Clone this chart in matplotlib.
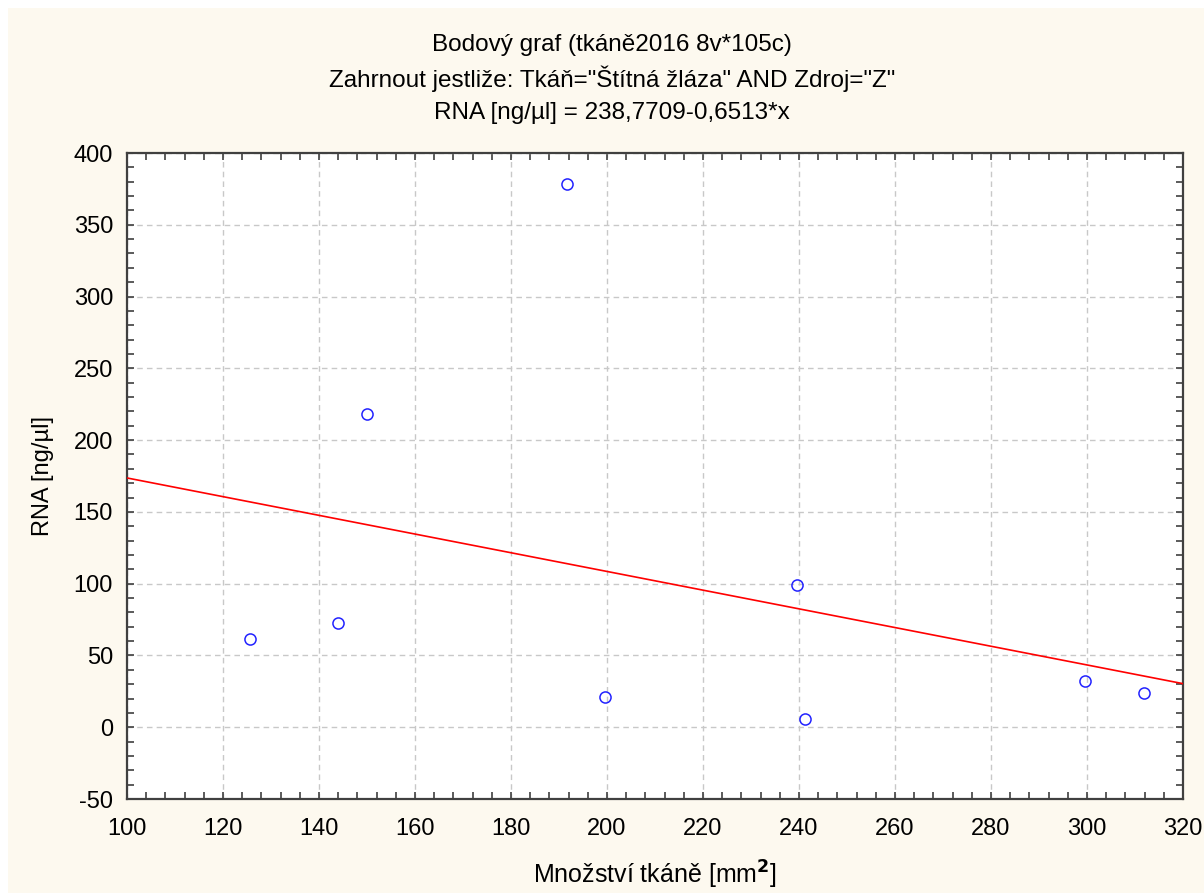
import numpy as np
import matplotlib.pyplot as plt
from matplotlib.ticker import MultipleLocator
from matplotlib.patches import Rectangle

plt.rcParams['font.family'] = ['Liberation Sans', 'DejaVu Sans']
plt.rcParams['axes.unicode_minus'] = False

# tissue amount [mm2] vs. RNA yield [ng/ul]
mnozstvi = [125.6, 143.9, 150.0, 191.7, 199.6, 239.6, 241.3, 299.6, 311.9]
rna = [61.2, 72.8, 218.2, 378.2, 21.0, 99.1, 5.9, 32.2, 23.6]

# linear fit as printed in the header
intercept = 238.7709
slope = -0.6513

titles = ['Bodový graf (tkáně2016 8v*105c)',
          'Zahrnout jestliže: Tkáň="Štítná žláza" AND Zdroj="Z"',
          'RNA [ng/µl] = 238,7709-0,6513*x']

W, H = 1204, 893
fig = plt.figure(figsize=(W / 100, H / 100), dpi=100, facecolor='white')
fig.patches.append(Rectangle((8 / W, 0), 1 - 8 / W, 1 - 8 / H, transform=fig.transFigure,
                             facecolor='#FDF9EF', edgecolor='none', zorder=-10))

ax = fig.add_axes([127 / W, 1 - 799 / H, (1183 - 127) / W, (799 - 153) / H])
ax.set_facecolor('white')

xs = np.array([100, 320])
ax.plot(xs, intercept + slope * xs, color='#FF0000', lw=1.2, zorder=3)
ax.plot(mnozstvi, rna, 'o', ms=8, mfc='none', mec='#2222FF', mew=1.1, zorder=4)

ax.set_xlim(100, 320)
ax.set_ylim(-50, 400)
ax.xaxis.set_major_locator(MultipleLocator(20))
ax.xaxis.set_minor_locator(MultipleLocator(4))
ax.yaxis.set_major_locator(MultipleLocator(50))
ax.yaxis.set_minor_locator(MultipleLocator(10))
ax.grid(True, which='major', color='#C8C8C8', ls=(0, (4, 3)), lw=1)

for s in ax.spines.values():
    s.set_color('#404040')
    s.set_linewidth(1.6)
ax.tick_params(which='both', direction='in', top=True, right=True, color='#404040', width=1.2)
ax.tick_params(which='major', length=5, labelsize=17)
ax.tick_params(axis='x', which='major', pad=14)
ax.tick_params(axis='y', which='major', pad=10)
ax.tick_params(which='minor', length=5)

ax.set_xlabel('Množství tkáně [mm$^{\\mathbf{2}}$]', fontsize=18, labelpad=13.5)
ax.set_ylabel('RNA [ng/µl]', fontsize=17, labelpad=14)

for i, t in enumerate(titles):
    fig.text(612 / W, 1 - (45 + 34 * i) / H, t, ha='center', va='center', fontsize=17.5)

fig.savefig('out.png', dpi=100, facecolor=fig.get_facecolor())
